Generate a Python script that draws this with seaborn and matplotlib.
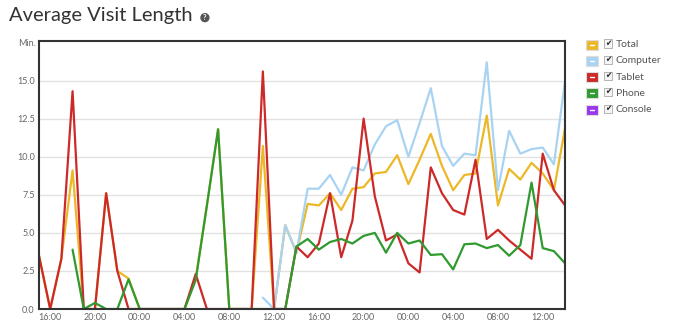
import numpy as np
import pandas as pd
import matplotlib.pyplot as plt
import seaborn as sns
from matplotlib.patches import Rectangle

#----------------------------------
# Data: average visit length (min.), hourly from 15:00
#----------------------------------
hours = ["15:00", "16:00", "17:00", "18:00", "19:00", "20:00", "21:00", "22:00",
         "23:00", "00:00", "01:00", "02:00", "03:00", "04:00", "05:00", "06:00",
         "07:00", "08:00", "09:00", "10:00", "11:00", "12:00", "13:00", "14:00",
         "15:00", "16:00", "17:00", "18:00", "19:00", "20:00", "21:00", "22:00",
         "23:00", "00:00", "01:00", "02:00", "03:00", "04:00", "05:00", "06:00",
         "07:00", "08:00", "09:00", "10:00", "11:00", "12:00", "13:00", "14:00"]

nan = np.nan
total = [3.5, 0, 3.3, 9.1, 0, 0, 7.6, 2.5, 2.0, 0, 0, 0, 0, 0, 2.0, 6.8,
         11.8, 0, 0, 0, 10.7, 0, 5.5, 3.7, 6.9, 6.8, 7.6, 6.5, 7.9, 8.0,
         8.9, 9.0, 10.1, 8.2, 9.8, 11.5, 9.4, 7.8, 8.8, 8.9, 12.7, 6.8,
         9.2, 8.5, 9.6, 8.9, 7.8, 11.9]
computer = [nan] * 20 + [0.75, 0, 5.5, 3.7, 7.9, 7.9, 8.8, 7.5, 9.3, 9.1,
                         10.8, 12.0, 12.4, 10.0, 12.2, 14.5, 10.7, 9.4, 10.2,
                         10.1, 16.2, 7.8, 11.7, 10.2, 10.5, 10.6, 9.5, 15.0]
tablet = [3.5, 0, 3.3, 14.3, 0, 0, 7.6, 2.5, 0, 0, 0, 0, 0, 0, 2.3, 0,
          0, 0, 0, 0, 15.6, 0, 0, 4.1, 3.4, 4.3, 7.6, 3.4, 5.8, 12.5,
          7.4, 4.5, 4.9, 3.0, 2.4, 9.3, 7.6, 6.5, 6.2, 9.8, 4.6, 5.2,
          4.5, 3.9, 3.3, 10.2, 7.8, 6.8]
phone = [nan, nan, nan, 3.9, 0, 0.4, 0, 0, 1.95, 0, 0, 0, 0, 0, 1.9, 6.8,
         11.8, 0, 0, 0, 0, 0, 0, 4.1, 4.6, 3.9, 4.4, 4.6, 4.3, 4.8,
         5.0, 3.7, 5.0, 4.3, 4.5, 3.55, 3.6, 2.6, 4.25, 4.3, 4.0, 4.2,
         3.5, 4.2, 8.3, 4.0, 3.8, 3.0]
console = [nan] * 48

series_names = ["Total", "Computer", "Tablet", "Phone", "Console"]
colors = ["#ecb828", "#a9d3f2", "#cc2929", "#2f9a2f", "#9a35f0"]

#----------------------------------
# Long-form table for seaborn
#----------------------------------
frames = []
for name, vals in zip(series_names, [total, computer, tablet, phone, console]):
    frames.append(pd.DataFrame({"hour": np.arange(len(hours)),
                                "minutes": vals, "series": name}))
df = pd.concat(frames, ignore_index=True).dropna()

sns.set_style("white")
plt.rcParams['font.family'] = ['Lato', 'DejaVu Sans']

fig = plt.figure(figsize=(6.9, 3.33), dpi=100)
ax = fig.add_axes([0.0565, 0.072, 0.7625, 0.805])

sns.lineplot(data=df, x="hour", y="minutes", hue="series",
             hue_order=[s for s in series_names if s in df["series"].unique()],
             palette=dict(zip(series_names, colors)), linewidth=1.6,
             legend=False, ax=ax, estimator=None)

ax.set_xlim(0, len(hours) - 1)
ax.set_ylim(0, 17.6)
ax.set_yticks(np.arange(0, 15.1, 2.5))
ax.set_yticklabels([f"{v:.1f}" for v in np.arange(0, 15.1, 2.5)])
tick_pos = list(range(1, len(hours), 4))
ax.set_xticks(tick_pos)
ax.set_xticklabels([hours[i] for i in tick_pos])
ax.tick_params(axis="both", labelsize=6.5, colors="#666666", length=0, pad=3)
ax.set_xlabel("")
ax.set_ylabel("")
ax.grid(axis="y", color="#e2e2e2", linewidth=1)
ax.set_axisbelow(True)
for sp in ax.spines.values():
    sp.set_color("#333333")
    sp.set_linewidth(1.5)

fig.text(36 / 690, 1 - 43 / 333, "Min.", fontsize=6.5, color="#666666",
         ha="right", va="center")

# title + help icon
fig.text(0.013, 0.952, "Average Visit Length", fontsize=14.5, color="#333333",
         ha="left", va="center")
fig.text(0.297, 0.947, "?", fontsize=5.5, color="white", ha="center", va="center",
         fontweight="bold",
         bbox=dict(boxstyle="circle,pad=0.15", fc="#555555", ec="none"))

# custom legend with checkboxes
for i, (name, col) in enumerate(zip(series_names, colors)):
    yc = 1 - (44.5 + i * 16.3) / 333
    fig.add_artist(Rectangle((586 / 690, yc - 5 / 333), 12 / 690, 10 / 333,
                             transform=fig.transFigure, fc=col, ec="#dddddd", lw=0.8))
    fig.add_artist(plt.Line2D([590 / 690, 594 / 690], [yc, yc],
                              transform=fig.transFigure, color="white", lw=1))
    fig.add_artist(Rectangle((604 / 690, yc - 3 / 333), 8 / 690, 8 / 333,
                             transform=fig.transFigure, fc="#f4f4f4", ec="#aaaaaa", lw=0.6))
    fig.text(608 / 690, yc + 1.5 / 333, "✔", fontsize=5.5, color="#222222",
             ha="center", va="center", family=['DejaVu Sans'])
    fig.text(616 / 690, yc, name, fontsize=7.5, color="#555555", ha="left", va="center")

fig.savefig("out.png", dpi=100)
